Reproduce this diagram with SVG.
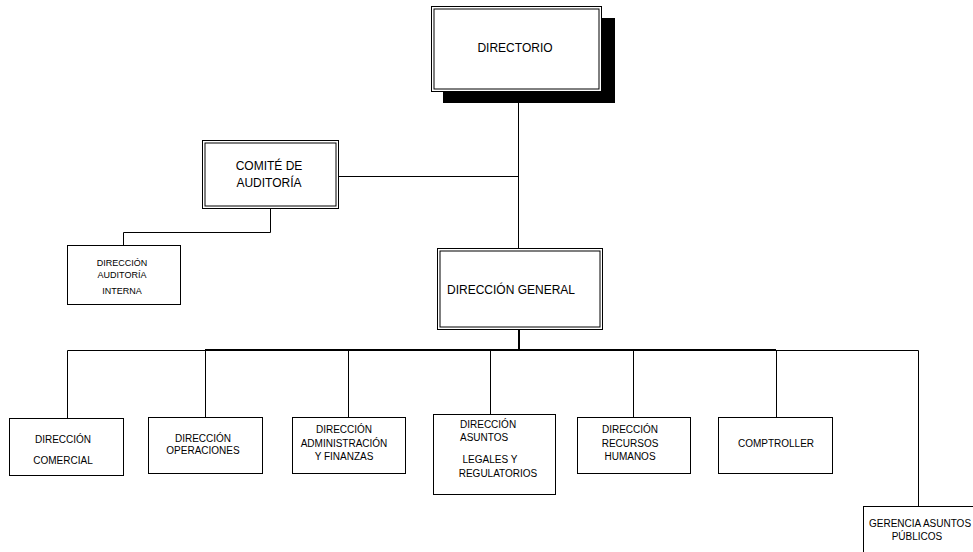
<svg xmlns="http://www.w3.org/2000/svg" width="973" height="552" viewBox="0 0 973 552">
<style>
.box{fill:#fff;stroke:#000;stroke-width:1}
.ln{fill:none;stroke:#000;stroke-width:1}
.thk{fill:none;stroke:#000;stroke-width:2}
text{font-family:"Liberation Sans",Arial,sans-serif;fill:#000}
.t12{font-size:12px}
.t10{font-size:10px}
.t9{font-size:9px}
.c{text-anchor:middle}
</style>
<rect width="973" height="552" fill="#fff"/>
<g id="connectors">
<path class="ln" d="M518.5 91V248"/>
<path class="ln" d="M338 176.5H518.5"/>
<path class="ln" d="M270.5 208V232.5H123.5V245"/>
<path class="thk" d="M519 329V350"/>
<path class="ln" d="M67.5 350.5H205"/>
<path class="thk" d="M205 350H776"/>
<path class="ln" d="M776 350.5H918.5V506"/>
<path class="ln" d="M67.5 350.5V418"/>
<path class="ln" d="M205.5 350V417"/>
<path class="ln" d="M348.5 350V417"/>
<path class="ln" d="M490.5 350V414"/>
<path class="ln" d="M633.5 350V417"/>
<path class="ln" d="M776.5 350V417"/>
</g>
<g id="directorio">
<rect x="443" y="18" width="172" height="85" fill="#000"/>
<rect class="box" x="431.5" y="6.5" width="170" height="85"/>
<rect class="ln" x="434" y="9" width="165" height="80"/>
<text class="t12 c" x="515" y="52">DIRECTORIO</text>
</g>
<g id="comite">
<rect class="box" x="202.5" y="140.5" width="136" height="68"/>
<rect class="ln" x="205" y="143" width="131" height="63"/>
<text class="t12 c" x="269" y="170">COMITÉ DE</text>
<text class="t12 c" x="269" y="187">AUDITORÍA</text>
</g>
<g id="auditoria-interna">
<rect class="box" x="67.5" y="245.5" width="113" height="59"/>
<text class="t9 c" x="122" y="266">DIRECCIÓN</text>
<text class="t9 c" x="122" y="278">AUDITORÍA</text>
<text class="t9 c" x="122" y="294">INTERNA</text>
</g>
<g id="direccion-general">
<rect class="box" x="437.5" y="248.5" width="165" height="81"/>
<rect class="ln" x="440" y="251" width="160" height="76"/>
<text class="t12" x="447" y="294">DIRECCIÓN GENERAL</text>
</g>
<g id="comercial">
<rect class="box" x="9.5" y="418.5" width="114" height="57"/>
<text class="t10 c" x="63" y="443">DIRECCIÓN</text>
<text class="t10 c" x="63" y="464">COMERCIAL</text>
</g>
<g id="operaciones">
<rect class="box" x="148.5" y="417.5" width="114" height="56"/>
<text class="t10 c" x="203" y="442">DIRECCIÓN</text>
<text class="t10 c" x="203" y="454">OPERACIONES</text>
</g>
<g id="administracion">
<rect class="box" x="292.5" y="417.5" width="113" height="56"/>
<text class="t10 c" x="344" y="433">DIRECCIÓN</text>
<text class="t10 c" x="344" y="447">ADMINISTRACIÓN</text>
<text class="t10 c" x="344" y="460">Y FINANZAS</text>
</g>
<g id="legales">
<rect class="box" x="433.5" y="414.5" width="122" height="80"/>
<text class="t10" x="460" y="428">DIRECCIÓN</text>
<text class="t10" x="460" y="441">ASUNTOS</text>
<text class="t10 c" x="490" y="463">LEGALES Y</text>
<text class="t10 c" x="498" y="477">REGULATORIOS</text>
</g>
<g id="recursos-humanos">
<rect class="box" x="577.5" y="417.5" width="113" height="56"/>
<text class="t10 c" x="630" y="433">DIRECCIÓN</text>
<text class="t10 c" x="630" y="447">RECURSOS</text>
<text class="t10 c" x="630" y="460">HUMANOS</text>
</g>
<g id="comptroller">
<rect class="box" x="718.5" y="417.5" width="114" height="56"/>
<text class="t10 c" x="776" y="447">COMPTROLLER</text>
</g>
<g id="gerencia">
<rect class="box" x="863.5" y="506.5" width="120" height="60"/>
<text class="t10" x="869" y="527">GERENCIA ASUNTOS</text>
<text class="t10 c" x="917" y="540">PÚBLICOS</text>
</g>
</svg>
